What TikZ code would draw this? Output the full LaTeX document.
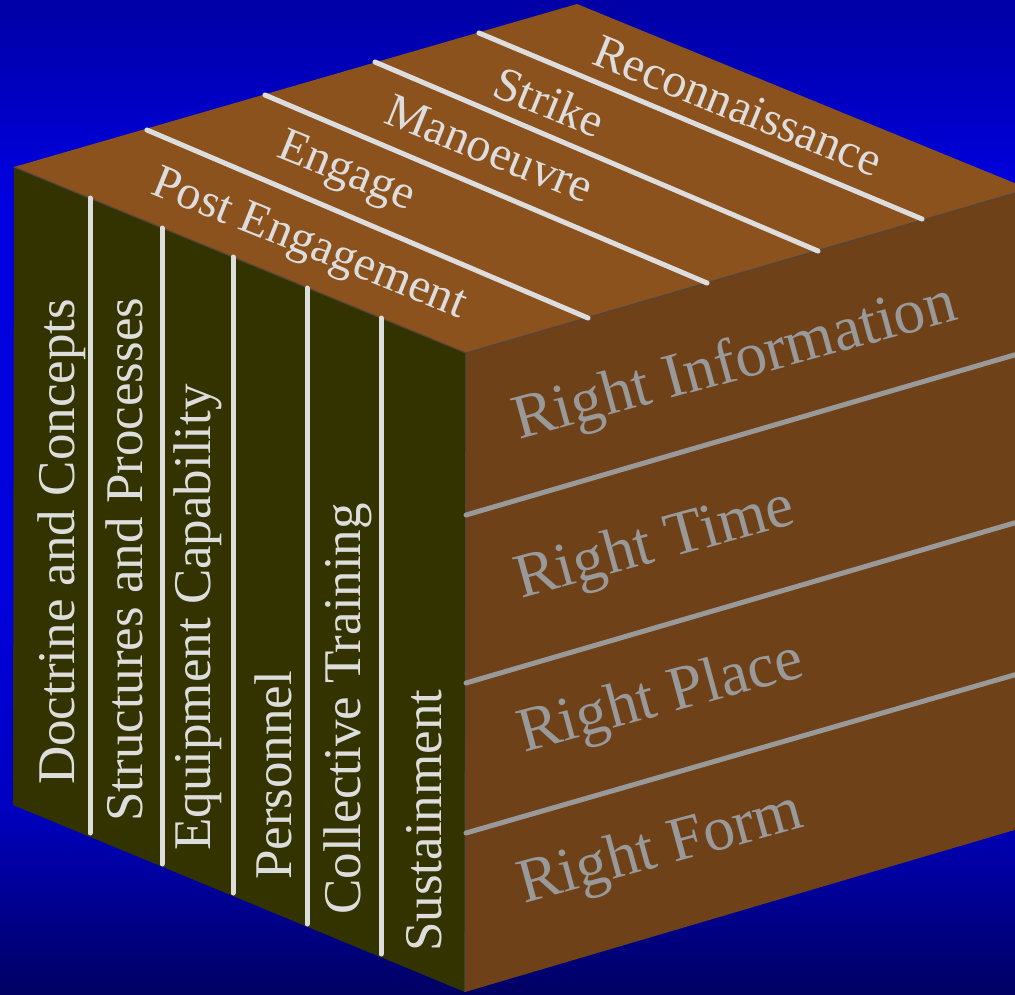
\documentclass[tikz,border=0pt]{standalone}
\usepackage{fontspec}
\setmainfont{Liberation Serif}
\newfontfamily\tnr{Liberation Serif}
\definecolor{topc}{RGB}{139,82,30}
\definecolor{rightc}{RGB}{110,65,25}
\definecolor{leftc}{RGB}{51,51,0}
\definecolor{linew}{RGB}{221,221,221}
\definecolor{lineg}{RGB}{153,153,153}
\definecolor{edgec}{RGB}{85,70,60}
\definecolor{bgA}{RGB}{0,0,165}
\definecolor{bgB}{RGB}{0,0,225}
\definecolor{bgC}{RGB}{0,0,220}
\definecolor{bgD}{RGB}{0,0,195}
\definecolor{bgE}{RGB}{0,0,100}
\begin{document}
\begin{tikzpicture}[x=1pt,y=-1pt,
  edge/.style={draw=edgec,line width=1.2pt,line join=round},
  divw/.style={draw=linew,line width=5pt,line cap=round},
  divg/.style={draw=lineg,line width=5pt,line cap=round},
  toptext/.style={anchor=base west,text=linew,font=\tnr\fontsize{48}{50}\selectfont,inner sep=0pt,rotate=-22},
  lefttext/.style={anchor=base west,text=linew,font=\tnr\fontsize{53}{55}\selectfont,inner sep=0pt,rotate=90},
  righttext/.style={anchor=base west,text=lineg,font=\tnr\fontsize{63}{65}\selectfont,inner sep=0pt,rotate=15.3}]
\useasboundingbox (0,0) rectangle (1015,994);
% background
\shade[top color=bgA,bottom color=bgB] (0,0) rectangle (1015,201);
\shade[top color=bgB,bottom color=bgC] (0,200) rectangle (1015,601);
\shade[top color=bgC,bottom color=bgD] (0,600) rectangle (1015,801);
\shade[top color=bgD,bottom color=bgE] (0,800) rectangle (1015,994);
% cube corners
\coordinate (L) at (14,167);
\coordinate (F) at (466,353);
\coordinate (B) at (577,4);
\coordinate (R) at (1029,189);
\coordinate (BL) at (13,805);
\coordinate (BF) at (465,992);
\coordinate (BR) at (1028,826);
% faces
\fill[leftc] (L) -- (F) -- (BF) -- (BL) -- cycle;
\fill[rightc] (F) -- (R) -- (BR) -- (BF) -- cycle;
\fill[topc] (L) -- (B) -- (R) -- (F) -- cycle;
\draw[edge] (L) -- (F) -- (R);
\draw[edge] (F) -- (BF);
% left face dividers
\coordinate (l1a) at (90,198);  \coordinate (l1b) at (90,833);
\coordinate (l2a) at (162,228); \coordinate (l2b) at (162,864);
\coordinate (l3a) at (233,257); \coordinate (l3b) at (233,893);
\coordinate (l4a) at (307,288); \coordinate (l4b) at (307,924);
\coordinate (l5a) at (381,318); \coordinate (l5b) at (381,954);
\foreach \i in {1,...,5} \draw[divw] (l\i a) -- (l\i b);
% top face dividers
\coordinate (t1a) at (147,130); \coordinate (t1b) at (588,318);
\coordinate (t2a) at (265,95);  \coordinate (t2b) at (707,283);
\coordinate (t3a) at (375,62);  \coordinate (t3b) at (818,251);
\coordinate (t4a) at (479,33);  \coordinate (t4b) at (922,219);
\foreach \i in {1,...,4} \draw[divw] (t\i a) -- (t\i b);
% right face dividers
\coordinate (r1a) at (466,515); \coordinate (r1b) at (1028,351);
\coordinate (r2a) at (466,683); \coordinate (r2b) at (1028,519);
\coordinate (r3a) at (466,833); \coordinate (r3b) at (1028,671);
\foreach \i in {1,...,3} \draw[divg] (r\i a) -- (r\i b);
% top texts
\node[toptext] (pe) at (149,193) {Post Engagement};
\node[toptext] (en) at (275,156) {Engage};
\node[toptext] (ma) at (382,122) {Manoeuvre};
\node[toptext] (st) at (490,95) {Strike};
\node[toptext] (re) at (590,63) {Reconnaissance};
% left texts
\node[lefttext] (dc) at (74,785) {Doctrine and Concepts};
\node[lefttext] (sp) at (142,822) {Structures and Processes};
\node[lefttext] (ec) at (210,851) {Equipment Capability};
\node[lefttext] (pn) at (291,880) {Personnel};
\node[lefttext] (ct) at (360,915) {Collective Training};
\node[lefttext] (su) at (441,952) {Sustainment};
% right texts
\node[righttext] (ri) at (519,440) {Right Information};
\node[righttext] (rt) at (521,599) {Right Time};
\node[righttext] (rp) at (524,753) {Right Place};
\node[righttext] (rf) at (524,904) {Right Form};
\end{tikzpicture}
\end{document}
